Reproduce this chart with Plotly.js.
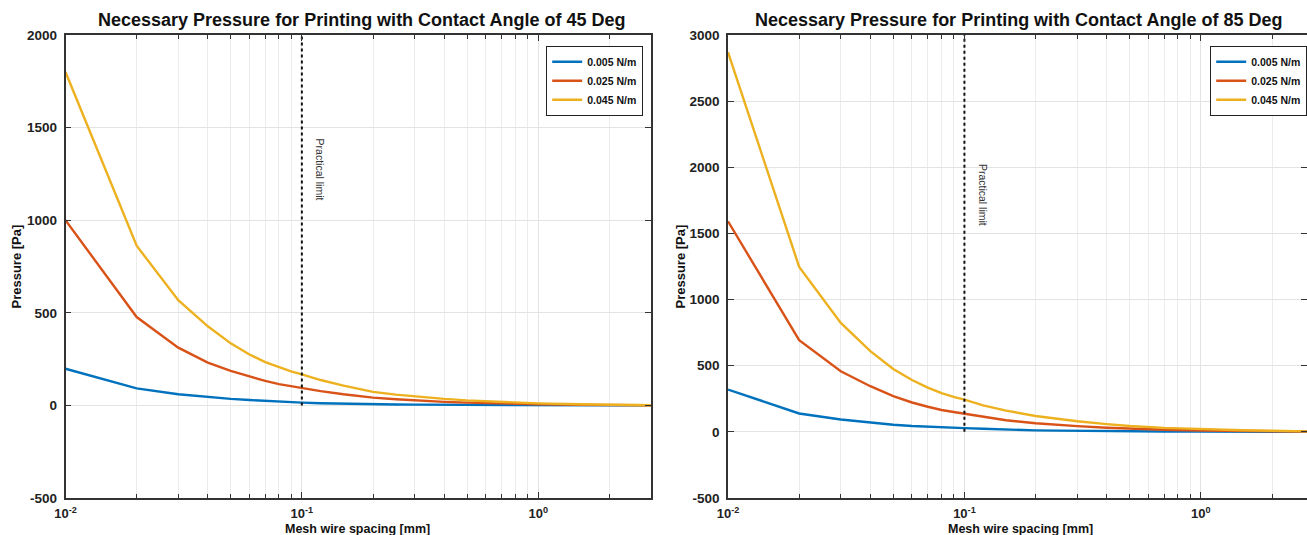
<!DOCTYPE html>
<html>
<head>
<meta charset="utf-8">
<script src="https://cdn.plot.ly/plotly-3.0.1.min.js"></script>
<style>html,body{margin:0;padding:0;background:#fff;}#chart{width:1307px;height:535px;}</style>
</head>
<body>
<div id="chart"></div>
<script>
// Mesh wire spacing [mm]
const spacing = [0.01,0.02,0.03,0.04,0.05,0.06,0.07,0.08,0.09,0.1,0.12,0.15,0.2,0.25,0.3,0.4,0.5,0.7,1,1.5,2,3];
const seriesNames = ['0.005 N/m','0.025 N/m','0.045 N/m'];

// Contact angle 45 deg, pressure [Pa]
const p45_005 = [198,92,60,44,35,29,24,20,17,15,12,9,6,5,4,3,2,1.5,1,0.5,0.3,0];
const p45_025 = [1000,477,312,231,186,155,132,115,103,94,77,60,42,33,27,19,15,10,6,3,2,1];
const p45_045 = [1800,862,568,427,335,275,234,206,184,167,137,107,73,58,48,35,27,18,11,6,4,1];

// Contact angle 85 deg, pressure [Pa]
const p85_005 = [320,139,93,68,54,44,38,33,30,28,23,17,11,9,7,5,4,3,2,1,0.5,0];
const p85_025 = [1592,693,458,345,270,222,190,165,150,138,113,88,65,52,43,31,24,16,10,6,4,2];
const p85_045 = [2870,1247,824,610,475,392,335,292,265,244,200,160,120,97,80,58,44,30,20,12,8,3];

// Practical limit line
const limitX = [0.1, 0.1];
const limit45Y = [0, 2000];
const limit85Y = [0, 3000];

// Tick labels
const xTickVals = [0.01, 0.1, 1];
const xTickText = ['10<sup>-2</sup>', '10<sup>-1</sup>', '10<sup>0</sup>'];
const xMinorVals = [0.02,0.03,0.04,0.05,0.06,0.07,0.08,0.09,0.2,0.3,0.4,0.5,0.6,0.7,0.8,0.9,2,3];
const y45TickVals = [-500,0,500,1000,1500,2000];
const y45TickText = ['-500','0','500','1000','1500','2000'];
const y85TickVals = [-500,0,500,1000,1500,2000,2500,3000];
const y85TickText = ['-500','0','500','1000','1500','2000','2500','3000'];

const colors = ['#0072BD','#D95319','#EDB120'];
const FONT = 'Liberation Sans, Arial, Helvetica, sans-serif';

function lineTrace(x, y, i, xa, ya, leg) {
  return {x: x, y: y, type: 'scatter', mode: 'lines', name: seriesNames[i],
    xaxis: xa, yaxis: ya, legend: leg,
    line: {color: colors[i], width: 2.4}, hoverinfo: 'x+y'};
}

const traces = [
  lineTrace(spacing, p45_005, 0, 'x', 'y', 'legend'),
  lineTrace(spacing, p45_025, 1, 'x', 'y', 'legend'),
  lineTrace(spacing, p45_045, 2, 'x', 'y', 'legend'),
  {x: limitX, y: limit45Y, type: 'scatter', mode: 'lines', showlegend: false, xaxis: 'x', yaxis: 'y',
    line: {color: '#111', width: 2, dash: 'dot'}},
  lineTrace(spacing, p85_005, 0, 'x2', 'y2', 'legend2'),
  lineTrace(spacing, p85_025, 1, 'x2', 'y2', 'legend2'),
  lineTrace(spacing, p85_045, 2, 'x2', 'y2', 'legend2'),
  {x: limitX, y: limit85Y, type: 'scatter', mode: 'lines', showlegend: false, xaxis: 'x2', yaxis: 'y2',
    line: {color: '#111', width: 2, dash: 'dot'}}
];

function xAxis(domain, range, anchor) {
  return {type: 'log', domain: domain, range: range, anchor: anchor,
    tickmode: 'array', tickvals: xTickVals, ticktext: xTickText,
    ticks: 'inside', ticklen: 6, tickwidth: 1.2, tickcolor: '#333',
    showline: true, linecolor: '#333', linewidth: 1.5, mirror: 'ticks',
    showgrid: true, gridcolor: '#e3e3e3', gridwidth: 1, zeroline: false,
    ticklabelstandoff: 3,
    tickfont: {family: FONT, size: 13, color: '#222', weight: 'bold'},
    minor: {tickmode: 'array', tickvals: xMinorVals, ticks: 'inside', ticklen: 4, tickcolor: '#333',
      showgrid: true, gridcolor: '#ececec', gridwidth: 1}};
}
function yAxis(range, vals, text, anchor) {
  return {range: range, anchor: anchor, domain: [0, 1],
    tickmode: 'array', tickvals: vals, ticktext: text,
    ticks: 'inside', ticklen: 6, tickwidth: 1.2, tickcolor: '#333',
    showline: true, linecolor: '#333', linewidth: 1.5, mirror: 'ticks',
    showgrid: true, gridcolor: '#e3e3e3', gridwidth: 1, zeroline: false,
    ticklabelstandoff: 4,
    tickfont: {family: FONT, size: 13.5, color: '#222', weight: 'bold'}};
}

const W = 1307;
const layout = {
  width: 1307, height: 535,
  margin: {l: 0, r: 0, t: 35, b: 37},
  paper_bgcolor: '#fff', plot_bgcolor: '#fff',
  font: {family: FONT},
  xaxis: xAxis([65.5 / W, 651 / W], [-2, Math.log10(3)], 'y'),
  yaxis: yAxis([-500, 2000], y45TickVals, y45TickText, 'x'),
  xaxis2: xAxis([728 / W, 1], [-2, 0.449], 'y2'),
  yaxis2: yAxis([-500, 3000], y85TickVals, y85TickText, 'x2'),
  legend: {x: 643 / W, xanchor: 'right', y: 0.976, yanchor: 'top',
    bordercolor: '#222', borderwidth: 1.2, bgcolor: '#fff',
    font: {family: FONT, size: 10.5, color: '#111', weight: 'bold'}, tracegroupgap: 0},
  legend2: {x: 1, xanchor: 'right', y: 0.976, yanchor: 'top',
    bordercolor: '#222', borderwidth: 1.2, bgcolor: '#fff',
    font: {family: FONT, size: 10.5, color: '#111', weight: 'bold'}, tracegroupgap: 0},
  showlegend: true,
  annotations: [
    {text: 'Necessary Pressure for Printing with Contact Angle of 45 Deg', xref: 'paper', yref: 'paper',
      x: 362 / W, y: 1, yanchor: 'bottom', xanchor: 'center', yshift: 3, showarrow: false,
      font: {family: FONT, size: 18, color: '#111', weight: 'bold'}},
    {text: 'Necessary Pressure for Printing with Contact Angle of 85 Deg', xref: 'paper', yref: 'paper',
      x: 1018 / W, y: 1, yanchor: 'bottom', xanchor: 'center', yshift: 3, showarrow: false,
      font: {family: FONT, size: 18, color: '#111', weight: 'bold'}},
    {text: 'Mesh wire spacing [mm]', xref: 'paper', yref: 'paper', x: 358 / W, y: 0, yanchor: 'top',
      xanchor: 'center', yshift: -22, showarrow: false,
      font: {family: FONT, size: 12.5, color: '#111', weight: 'bold'}},
    {text: 'Mesh wire spacing [mm]', xref: 'paper', yref: 'paper', x: 1020 / W, y: 0, yanchor: 'top',
      xanchor: 'center', yshift: -22, showarrow: false,
      font: {family: FONT, size: 12.5, color: '#111', weight: 'bold'}},
    {text: 'Pressure [Pa]', xref: 'paper', yref: 'paper', x: 16 / W, y: 0.5, xanchor: 'center',
      yanchor: 'middle', textangle: -90, showarrow: false,
      font: {family: FONT, size: 13, color: '#111', weight: 'bold'}},
    {text: 'Pressure [Pa]', xref: 'paper', yref: 'paper', x: 680 / W, y: 0.5, xanchor: 'center',
      yanchor: 'middle', textangle: -90, showarrow: false,
      font: {family: FONT, size: 13, color: '#111', weight: 'bold'}},
    {text: 'Practical limit', xref: 'x', yref: 'y', x: Math.log10(0.119), y: 1275, textangle: 90,
      showarrow: false, font: {family: FONT, size: 10.5, color: '#333'}},
    {text: 'Practical limit', xref: 'x2', yref: 'y2', x: Math.log10(0.12), y: 1790, textangle: 90,
      showarrow: false, font: {family: FONT, size: 10.5, color: '#333'}}
  ]
};

Plotly.newPlot('chart', traces, layout, {displayModeBar: false, responsive: false});
</script>
</body>
</html>
